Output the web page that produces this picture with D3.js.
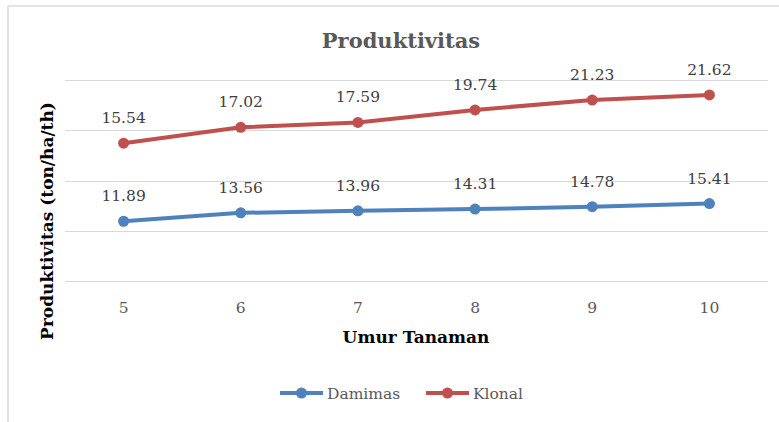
<!DOCTYPE html>
<html lang="id">
<head>
    <meta charset="UTF-8">
    <title>Produktivitas</title>
    <script src="https://cdn.jsdelivr.net/npm/d3@7"></script>
    <style>
        body { margin: 0; background: #fff; }
        text { font-family: "DejaVu Serif", serif; }
        .grid line { stroke: #d9d9d9; stroke-width: 1; }
        .value-label { font-size: 15.5px; fill: #404040; }
        .tick-label { font-size: 15.5px; fill: #595959; }
    </style>
</head>
<body>
    <svg width="779" height="422"></svg>

    <script>
        // chart data
        var umur = ["5", "6", "7", "8", "9", "10"];
        var damimas = [11.89, 13.56, 13.96, 14.31, 14.78, 15.41];
        var klonal = [15.54, 17.02, 17.59, 19.74, 21.23, 21.62];
        var yTicks = [0, 10, 20, 30, 40];

        var seriesNames = ["Damimas", "Klonal"];
        var colors = { Damimas: "#4f81bd", Klonal: "#c0504d" };

        var width = 779,
            height = 422;
        var margin = { top: 80, right: 11, bottom: 141, left: 65 };

        var svg = d3.select("svg");

        // outer frame (only top and left edges are in view)
        svg.append("line")
            .attr("x1", 8).attr("y1", 6).attr("x2", width).attr("y2", 6)
            .attr("stroke", "#e3e3e3").attr("stroke-width", 2);
        svg.append("line")
            .attr("x1", 8).attr("y1", 6).attr("x2", 8).attr("y2", height)
            .attr("stroke", "#e3e3e3").attr("stroke-width", 2);

        var x = d3.scalePoint()
            .domain(umur)
            .range([margin.left, width - margin.right])
            .padding(0.5);

        var y = d3.scaleLinear()
            .domain([0, 40])
            .range([height - margin.bottom, margin.top]);

        // table for the stacked lines
        var table = umur.map(function(u, i) {
            return { umur: u, Damimas: damimas[i], Klonal: klonal[i] };
        });
        var stacked = d3.stack().keys(seriesNames)(table);

        // gridlines
        svg.append("g")
            .attr("class", "grid")
            .selectAll("line")
            .data(yTicks)
            .enter().append("line")
            .attr("x1", margin.left)
            .attr("x2", width - margin.right)
            .attr("y1", function(d) { return Math.round(y(d)) + 0.5; })
            .attr("y2", function(d) { return Math.round(y(d)) + 0.5; });

        // x tick labels
        svg.append("g")
            .selectAll("text")
            .data(umur)
            .enter().append("text")
            .attr("class", "tick-label")
            .attr("x", function(d) { return x(d); })
            .attr("y", 313)
            .attr("text-anchor", "middle")
            .text(function(d) { return d; });

        var line = d3.line()
            .x(function(d) { return x(d.data.umur); })
            .y(function(d) { return y(d[1]); });

        var series = svg.append("g")
            .selectAll("g")
            .data(stacked)
            .enter().append("g");

        series.append("path")
            .attr("fill", "none")
            .attr("stroke", function(d) { return colors[d.key]; })
            .attr("stroke-width", 4)
            .attr("stroke-linejoin", "round")
            .attr("d", line);

        series.selectAll("circle")
            .data(function(d) { return d; })
            .enter().append("circle")
            .attr("cx", function(d) { return x(d.data.umur); })
            .attr("cy", function(d) { return y(d[1]); })
            .attr("r", 5.5)
            .attr("fill", function() { return colors[d3.select(this.parentNode).datum().key]; });

        series.selectAll(".value-label")
            .data(function(s) {
                return s.map(function(d) { return { key: s.key, d: d }; });
            })
            .enter().append("text")
            .attr("class", "value-label")
            .attr("x", function(v) { return x(v.d.data.umur); })
            .attr("y", function(v) { return y(v.d[1]) - 20; })
            .attr("text-anchor", "middle")
            .text(function(v) { return v.d.data[v.key].toFixed(2); });

        // titles
        svg.append("text")
            .attr("x", 401)
            .attr("y", 48)
            .attr("text-anchor", "middle")
            .attr("font-size", "21px")
            .attr("font-weight", "bold")
            .attr("fill", "#595959")
            .text("Produktivitas");

        svg.append("text")
            .attr("x", 416)
            .attr("y", 343)
            .attr("text-anchor", "middle")
            .attr("font-size", "17px")
            .attr("font-weight", "bold")
            .attr("fill", "#000")
            .text("Umur Tanaman");

        svg.append("text")
            .attr("transform", "translate(53,221) rotate(-90)")
            .attr("text-anchor", "middle")
            .attr("font-size", "17px")
            .attr("font-weight", "bold")
            .attr("fill", "#000")
            .text("Produktivitas (ton/ha/th)");

        // legend
        var legendX = [280, 426];
        var legend = svg.append("g")
            .selectAll("g")
            .data(seriesNames)
            .enter().append("g")
            .attr("transform", function(d, i) { return "translate(" + legendX[i] + ",393)"; });

        legend.append("line")
            .attr("x1", 0).attr("x2", 43)
            .attr("stroke", function(d) { return colors[d]; })
            .attr("stroke-width", 4);
        legend.append("circle")
            .attr("cx", 21.5)
            .attr("r", 5.5)
            .attr("fill", function(d) { return colors[d]; });
        legend.append("text")
            .attr("class", "tick-label")
            .attr("x", 47)
            .attr("y", 6)
            .text(function(d) { return d; });
    </script>
</body>
</html>
